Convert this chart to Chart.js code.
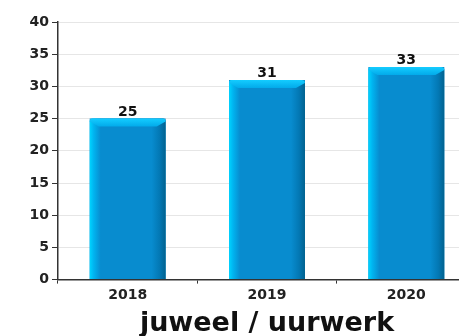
<!DOCTYPE html>
<html>
<head>
<meta charset="utf-8">
<script src="https://cdn.jsdelivr.net/npm/chart.js@4"></script>
<style>
  html, body { margin: 0; padding: 0; background: #fff; overflow: hidden; }
  #wrap { width: 480px; height: 340px; }
</style>
</head>
<body>
<div id="wrap"><canvas id="chart"></canvas></div>
<script>
const years = ['2018', '2019', '2020'];
const counts = [25, 31, 33];
const yTicks = [0, 40, 5];   // min, max, step
const chartTitle = 'juweel / uurwerk';

const FONT = '"DejaVu Sans", sans-serif';
const MAIN = '#088ccf';

// shading, top bevel and value labels drawn over each bar
const bevelPlugin = {
    id: 'bevel',
    afterDatasetsDraw(chart) {
        const ctx = chart.ctx;
        const meta = chart.getDatasetMeta(0);
        meta.data.forEach((bar, i) => {
            const left = bar.x - bar.width / 2;
            const right = bar.x + bar.width / 2;
            const w = bar.width;
            const top = bar.y;
            const base = bar.base;
            ctx.save();

            // side shading
            const g = ctx.createLinearGradient(left, 0, right, 0);
            g.addColorStop(0, '#00d4ff');
            g.addColorStop(4 / w, '#00b4f0');
            g.addColorStop(11 / w, MAIN);
            g.addColorStop(1 - 14 / w, MAIN);
            g.addColorStop(1 - 6 / w, '#0378b4');
            g.addColorStop(1, '#02628f');
            ctx.fillStyle = g;
            ctx.beginPath();
            ctx.moveTo(left, base);
            ctx.lineTo(left, top + 3);
            ctx.quadraticCurveTo(left, top, left + 3, top);
            ctx.lineTo(right - 3, top);
            ctx.quadraticCurveTo(right, top, right, top + 3);
            ctx.lineTo(right, base);
            ctx.closePath();
            ctx.fill();

            // top bevel
            const h = 8;
            const gt = ctx.createLinearGradient(0, top, 0, top + h);
            gt.addColorStop(0, '#14ccff');
            gt.addColorStop(1, '#02aaea');
            ctx.fillStyle = gt;
            ctx.beginPath();
            ctx.moveTo(left + 3, top);
            ctx.lineTo(right - 3, top);
            ctx.quadraticCurveTo(right, top, right, top + 3);
            ctx.lineTo(right - 9, top + h);
            ctx.lineTo(left + 9, top + h);
            ctx.lineTo(left, top + 3);
            ctx.quadraticCurveTo(left, top, left + 3, top);
            ctx.closePath();
            ctx.fill();

            // value label
            ctx.fillStyle = '#111';
            ctx.font = 'bold 14px ' + FONT;
            ctx.textAlign = 'center';
            ctx.textBaseline = 'alphabetic';
            ctx.fillText(String(counts[i]), bar.x, top - 3);
            ctx.restore();
        });
    }
};

new Chart(document.getElementById('chart'), {
    type: 'bar',
    data: {
        labels: years,
        datasets: [{
            data: counts,
            backgroundColor: MAIN,
            borderWidth: 0,
            categoryPercentage: 1,
            barPercentage: 0.545
        }]
    },
    options: {
        responsive: true,
        maintainAspectRatio: false,
        animation: false,
        layout: { padding: { top: 22, right: 4, left: 0, bottom: 0 } },
        plugins: {
            legend: { display: false },
            tooltip: { enabled: false },
            title: {
                display: true,
                text: chartTitle,
                position: 'bottom',
                fullSize: false,
                color: '#111',
                font: { family: FONT, size: 27, weight: 'bold' },
                padding: { top: 4, bottom: 0 }
            }
        },
        scales: {
            x: {
                afterFit(scale) { scale.height = 24; },
                grid: {
                    display: true,
                    drawOnChartArea: false,
                    offset: true,
                    tickLength: 4,
                    color: '#333'
                },
                border: { color: '#333', width: 1.5 },
                ticks: {
                    color: '#222',
                    font: { family: FONT, size: 14, weight: 'bold' },
                    padding: 3
                }
            },
            y: {
                afterFit(scale) { scale.width = 58; },
                min: yTicks[0],
                max: yTicks[1],
                grid: {
                    color: '#e6e6e6',
                    tickColor: '#333',
                    tickLength: 6
                },
                border: { color: '#333', width: 1.5 },
                ticks: {
                    stepSize: yTicks[2],
                    color: '#222',
                    font: { family: FONT, size: 14, weight: 'bold' },
                    padding: 3
                }
            }
        }
    },
    plugins: [bevelPlugin]
});
</script>
</body>
</html>
